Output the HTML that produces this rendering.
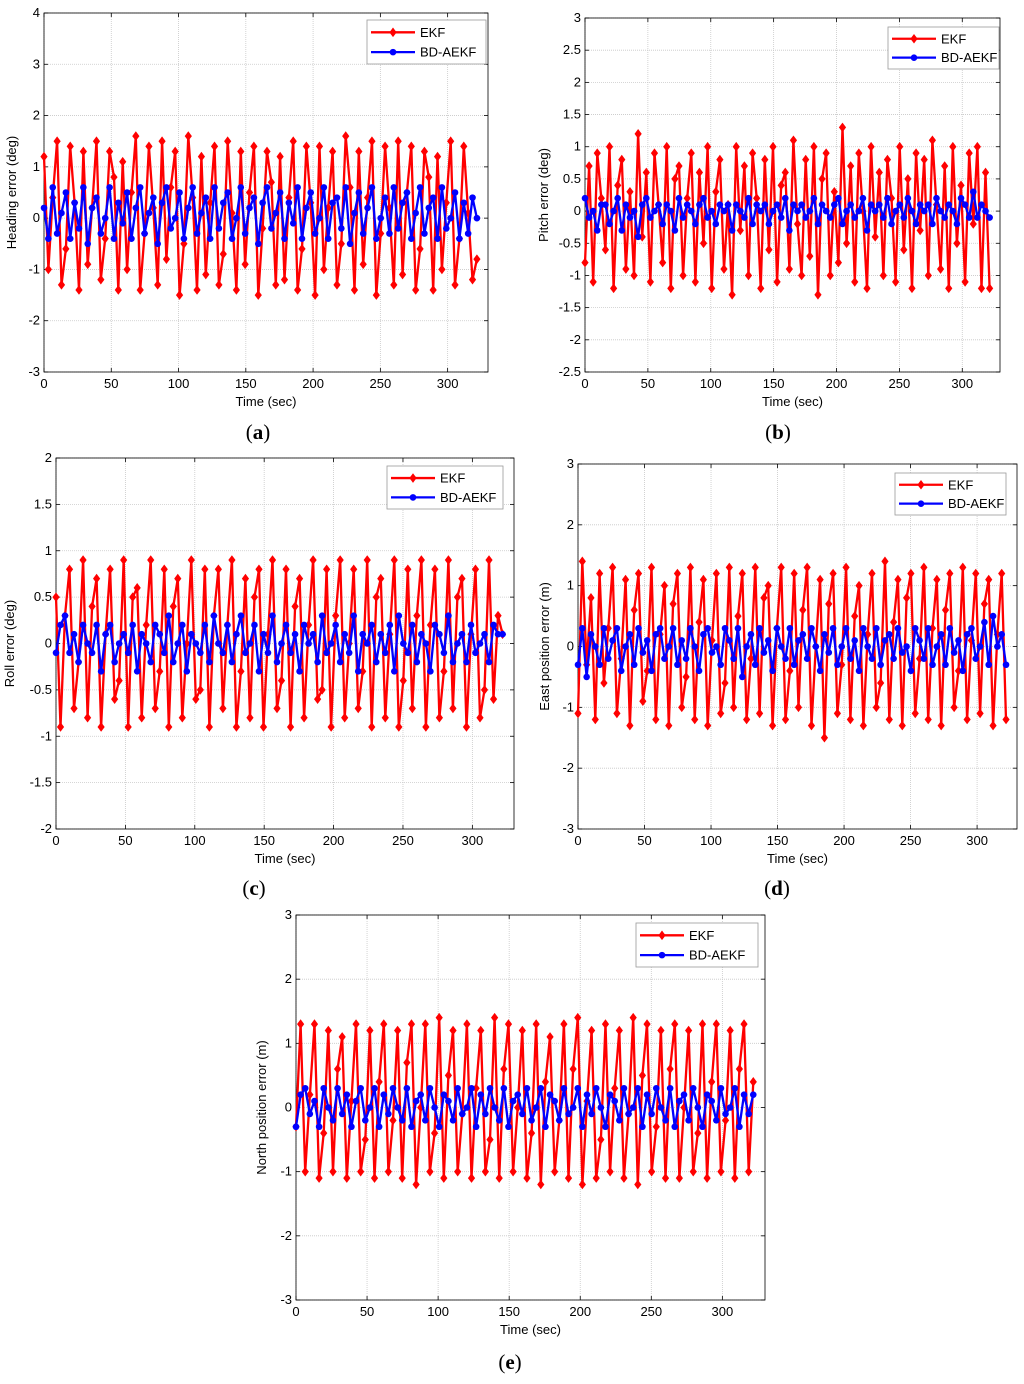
<!DOCTYPE html>
<html><head><meta charset="utf-8"><style>
body{margin:0;background:#fff;}
svg{display:block;font-family:"Liberation Sans",Arial,sans-serif;}
</style></head><body>
<svg id="fig" width="1024" height="1384" viewBox="0 0 1024 1384"></svg>
<script>
const dt = 3.25;
const xTicks = [0,50,100,150,200,250,300];
const headEKF = [1.2,-1.0,0.4,1.5,-1.3,-0.6,1.4,0.3,-1.4,1.3,-0.9,0.2,1.5,-1.2,-0.4,1.3,0.8,-1.4,1.1,-1.0,0.5,1.6,-1.4,-0.3,1.4,0.2,-1.3,1.5,-0.8,0.6,1.3,-1.5,-0.5,1.6,0.4,-1.4,1.2,-1.1,0.3,1.4,-1.3,-0.7,1.5,0.1,-1.4,1.3,-0.9,0.5,1.4,-1.5,-0.2,1.3,0.7,-1.3,1.2,-1.2,0.4,1.5,-1.4,-0.6,1.4,0.3,-1.5,1.4,-1.0,0.2,1.3,-1.3,-0.5,1.6,0.6,-1.4,1.3,-0.9,0.4,1.5,-1.5,-0.3,1.4,0.2,-1.3,1.5,-1.1,0.5,1.4,-1.4,-0.6,1.3,0.8,-1.4,1.2,-1.0,0.3,1.5,-1.3,-0.4,1.4,0.1,-1.2,-0.8];
const headBD = [0.2,-0.4,0.6,-0.3,0.1,0.5,-0.4,0.3,-0.2,0.6,-0.5,0.2,0.4,-0.3,0.0,0.6,-0.4,0.3,-0.1,0.5,-0.4,0.2,0.6,-0.3,0.1,0.4,-0.5,0.3,0.6,-0.2,0.0,0.5,-0.4,0.2,0.6,-0.3,0.1,0.4,-0.4,0.6,-0.2,0.3,0.5,-0.4,0.0,0.6,-0.3,0.2,0.4,-0.5,0.3,0.6,-0.2,0.1,0.5,-0.4,0.3,-0.1,0.6,-0.4,0.2,0.5,-0.3,0.0,0.6,-0.4,0.3,0.4,-0.2,0.6,-0.5,0.1,0.5,-0.3,0.2,0.6,-0.4,0.0,0.4,-0.3,0.6,-0.2,0.3,0.5,-0.4,0.1,0.6,-0.3,0.2,0.4,-0.4,0.6,-0.2,0.0,0.5,-0.4,0.3,-0.3,0.4,0.0];
const pitchEKF = [-0.8,0.7,-1.1,0.9,0.2,-0.6,1.0,-1.2,0.4,0.8,-0.9,0.3,-1.0,1.2,-0.4,0.6,-1.1,0.9,0.1,-0.8,1.0,-1.2,0.5,0.7,-1.0,0.2,0.9,-1.1,0.6,-0.5,1.0,-1.2,0.3,0.8,-0.9,0.1,-1.3,1.0,-0.3,0.7,-1.0,0.9,0.2,-1.2,0.8,-0.6,1.0,-1.1,0.4,0.6,-0.9,1.1,-0.2,-1.0,0.8,-0.7,1.0,-1.3,0.5,0.9,-1.0,0.3,-0.8,1.3,-0.5,0.7,-1.1,0.9,0.0,-1.2,1.0,-0.4,0.6,-1.0,0.8,0.2,-1.1,1.0,-0.6,0.5,-1.2,0.9,-0.3,0.8,-1.0,1.1,0.1,-0.9,0.7,-1.2,1.0,-0.5,0.4,-1.1,0.9,-0.2,1.0,-1.2,0.6,-1.2];
const pitchBD = [0.2,-0.1,0.0,-0.3,0.1,0.1,-0.2,0.0,0.2,-0.3,0.1,-0.1,0.0,-0.4,0.1,0.2,-0.1,0.0,0.1,-0.2,0.1,0.0,-0.3,0.2,-0.1,0.1,0.0,-0.2,0.1,0.2,-0.1,0.0,-0.2,0.1,0.0,0.1,-0.3,0.1,0.0,-0.1,0.2,-0.2,0.1,0.0,0.1,-0.2,0.0,0.1,-0.1,0.2,-0.3,0.1,0.0,0.1,-0.1,0.0,0.2,-0.2,0.1,0.0,-0.1,0.1,0.2,-0.2,0.0,0.1,-0.1,0.0,0.2,-0.3,0.1,0.0,0.1,-0.1,0.2,-0.2,0.0,0.1,-0.1,0.2,0.0,-0.2,0.1,0.0,0.1,-0.2,0.2,0.0,-0.1,0.1,0.0,-0.2,0.2,0.1,-0.1,0.3,-0.1,0.1,0.0,-0.1];
const rollEKF = [0.5,-0.9,0.3,0.8,-0.7,-0.2,0.9,-0.8,0.4,0.7,-0.9,0.1,0.8,-0.6,-0.4,0.9,-0.9,0.5,0.6,-0.8,0.2,0.9,-0.7,-0.3,0.8,-0.9,0.4,0.7,-0.8,0.0,0.9,-0.6,-0.5,0.8,-0.9,0.3,0.8,-0.7,0.2,0.9,-0.9,-0.3,0.7,-0.8,0.5,0.8,-0.9,0.1,0.9,-0.7,-0.4,0.8,-0.9,0.4,0.7,-0.8,0.2,0.9,-0.6,-0.5,0.8,-0.9,0.3,0.9,-0.8,0.0,0.8,-0.7,-0.3,0.9,-0.9,0.5,0.7,-0.8,0.1,0.9,-0.9,-0.4,0.8,-0.7,0.3,0.9,-0.9,0.2,0.8,-0.8,-0.3,0.9,-0.7,0.5,0.7,-0.9,0.1,0.8,-0.8,-0.5,0.9,-0.6,0.3,0.1];
const rollBD = [-0.1,0.2,0.3,-0.1,0.1,-0.2,0.2,0.0,-0.1,0.2,-0.3,0.1,0.2,-0.2,0.0,0.1,-0.1,0.2,-0.3,0.1,0.0,-0.2,0.2,0.1,-0.1,0.3,-0.2,0.0,0.2,-0.3,0.1,0.0,-0.1,0.2,-0.2,0.3,0.0,-0.1,0.2,-0.2,0.1,0.3,-0.1,0.0,0.2,-0.3,0.1,-0.1,0.3,-0.2,0.0,0.2,-0.1,0.1,-0.3,0.2,0.0,0.1,-0.2,0.3,-0.1,0.0,0.2,-0.2,0.1,-0.1,0.3,-0.3,0.1,0.0,0.2,-0.2,0.1,-0.1,0.2,-0.3,0.3,0.0,-0.1,0.2,-0.2,0.1,0.0,-0.3,0.2,0.1,-0.1,0.3,-0.2,0.0,0.1,-0.2,0.2,-0.1,0.0,0.1,-0.2,0.2,0.1,0.1];
const eastEKF = [-1.1,1.4,-0.3,0.8,-1.2,1.2,-0.6,0.3,1.3,-1.1,-0.2,1.1,-1.3,0.6,1.2,-0.9,-0.4,1.3,-1.2,0.2,1.0,-1.3,0.7,1.2,-1.0,-0.5,1.3,-1.2,0.4,1.1,-1.3,0.1,1.2,-1.1,-0.6,1.3,-1.0,0.5,1.2,-1.2,-0.2,1.3,-1.1,0.8,1.0,-1.3,0.3,1.3,-1.2,-0.4,1.2,-1.0,0.6,1.3,-1.3,0.0,1.1,-1.5,0.7,1.2,-1.1,-0.3,1.3,-1.2,0.5,1.0,-1.3,0.2,1.2,-1.0,-0.6,1.4,-1.2,0.4,1.1,-1.3,0.8,1.2,-1.1,-0.2,1.3,-1.2,0.3,1.1,-1.3,0.6,1.2,-1.0,-0.4,1.3,-1.2,0.1,1.2,-1.1,0.7,1.1,-1.3,0.2,1.2,-1.2];
const eastBD = [-0.3,0.3,-0.5,0.2,0.0,-0.3,0.3,-0.2,0.1,0.3,-0.4,0.0,0.2,-0.3,0.3,-0.1,0.1,-0.4,0.2,0.3,-0.2,0.0,0.3,-0.3,0.1,-0.2,0.3,0.0,-0.4,0.2,0.3,-0.1,0.0,-0.3,0.3,0.1,-0.2,0.3,-0.5,0.0,0.2,-0.3,0.3,-0.1,0.1,-0.4,0.3,0.0,-0.2,0.3,-0.3,0.1,0.2,-0.2,0.3,0.0,-0.4,0.2,-0.1,0.3,-0.3,0.0,0.3,-0.2,0.1,-0.4,0.3,0.0,-0.2,0.3,-0.3,0.1,0.2,-0.2,0.3,-0.1,0.0,-0.4,0.3,0.1,-0.2,0.3,-0.3,0.0,0.2,-0.3,0.3,-0.1,0.1,-0.4,0.2,0.3,-0.2,0.0,0.4,-0.3,0.5,0.0,0.2,-0.3];
const northEKF = [-0.3,1.3,-1.0,0.2,1.3,-1.1,-0.4,1.2,-1.0,0.6,1.1,-1.1,0.1,1.3,-1.0,-0.5,1.2,-1.1,0.4,1.3,-1.0,-0.2,1.2,-1.1,0.7,1.3,-1.2,0.0,1.3,-1.0,-0.4,1.4,-1.1,0.5,1.2,-1.0,-0.1,1.3,-1.1,0.3,1.2,-1.0,-0.5,1.4,-1.1,0.6,1.3,-1.0,0.0,1.2,-1.1,-0.4,1.3,-1.2,0.4,1.1,-1.0,-0.2,1.3,-1.1,0.6,1.4,-1.2,0.1,1.2,-1.1,-0.5,1.3,-1.0,0.3,1.2,-1.1,-0.1,1.4,-1.2,0.5,1.3,-1.0,-0.3,1.2,-1.1,0.6,1.3,-1.1,0.0,1.2,-1.0,-0.4,1.3,-1.1,0.4,1.3,-1.0,-0.2,1.2,-1.1,0.6,1.3,-1.0,0.4];
const northBD = [-0.3,0.2,0.3,-0.1,0.1,-0.3,0.3,0.0,-0.2,0.3,-0.1,0.2,-0.3,0.1,0.3,-0.2,0.0,0.3,-0.3,0.2,-0.1,0.3,0.0,-0.2,0.3,-0.3,0.1,0.2,-0.2,0.3,0.0,-0.3,0.2,0.1,-0.2,0.3,-0.1,0.0,0.3,-0.3,0.2,-0.1,0.3,0.0,-0.2,0.3,-0.3,0.1,0.2,-0.1,0.3,-0.2,0.0,0.3,-0.3,0.2,0.1,-0.2,0.3,-0.1,0.0,0.3,-0.3,0.2,-0.1,0.3,0.0,-0.3,0.2,0.1,-0.2,0.3,-0.1,0.0,0.3,-0.3,0.2,-0.1,0.3,0.0,-0.2,0.3,-0.3,0.1,0.2,-0.2,0.3,0.0,-0.3,0.2,0.1,-0.2,0.3,-0.1,0.0,0.3,-0.3,0.2,-0.1,0.2];
const yTicksA = [-3,-2,-1,0,1,2,3,4];
const yTicksB = [-2.5,-2,-1.5,-1,-0.5,0,0.5,1,1.5,2,2.5,3];
const yTicksC = [-2,-1.5,-1,-0.5,0,0.5,1,1.5,2];
const yTicksD = [-3,-2,-1,0,1,2,3];
const yTicksE = [-3,-2,-1,0,1,2,3];

const NS = "http://www.w3.org/2000/svg";
const svg = document.getElementById('fig');
function mk(tag, attrs, parent, text){
  const e = document.createElementNS(NS, tag);
  for (const k in attrs) e.setAttribute(k, attrs[k]);
  if (text !== undefined) e.textContent = text;
  (parent||svg).appendChild(e);
  return e;
}
const panels = [
 {id:'a',L:44,R:488,T:13,B:372,ymin:-3,ymax:4,yt:yTicksA,ekf:headEKF,bd:headBD,ylab:'Heading error (deg)',ylx:16,leg:[367,20,119,44],lab:[258,432]},
 {id:'b',L:585,R:1000,T:18,B:372,ymin:-2.5,ymax:3,yt:yTicksB,ekf:pitchEKF,bd:pitchBD,ylab:'Pitch error (deg)',ylx:548,leg:[888,27,111,42],lab:[778,432]},
 {id:'c',L:56,R:514,T:458,B:829,ymin:-2,ymax:2,yt:yTicksC,ekf:rollEKF,bd:rollBD,ylab:'Roll error (deg)',ylx:14,leg:[387,466,116,43],lab:[254,888]},
 {id:'d',L:578,R:1017,T:464,B:829,ymin:-3,ymax:3,yt:yTicksD,ekf:eastEKF,bd:eastBD,ylab:'East position error (m)',ylx:549,leg:[895,473,111,42],lab:[777,888]},
 {id:'e',L:296,R:765,T:915,B:1300,ymin:-3,ymax:3,yt:yTicksE,ekf:northEKF,bd:northBD,ylab:'North position error (m)',ylx:266,leg:[636,923,122,44],lab:[510,1362]}
];
const XMAX = 330;
panels.forEach(p=>{
  const g = mk('g',{});
  
  
  const sx = v => p.L + v/XMAX*(p.R-p.L);
  const sy = v => p.B - (v-p.ymin)/(p.ymax-p.ymin)*(p.B-p.T);
  mk('rect',{x:p.L,y:p.T,width:p.R-p.L,height:p.B-p.T,fill:'#fff'},g);
  xTicks.forEach(t=>{
    const x=sx(t);
    mk('line',{x1:x,x2:x,y1:p.T,y2:p.B,stroke:'#c8c8c8','stroke-width':0.8,'stroke-dasharray':'1 1'},g);
    mk('line',{x1:x,x2:x,y1:p.B,y2:p.B-4,stroke:'#000','stroke-width':0.8},g);
    mk('line',{x1:x,x2:x,y1:p.T,y2:p.T+4,stroke:'#000','stroke-width':0.8},g);
    const tl = mk('text',{x:x,y:p.B+16,'font-size':13,'text-anchor':'middle'},g,String(t));
    
    
  });
  p.yt.forEach(t=>{
    const y=sy(t);
    mk('line',{x1:p.L,x2:p.R,y1:y,y2:y,stroke:'#c8c8c8','stroke-width':0.8,'stroke-dasharray':'1 1'},g);
    mk('line',{x1:p.L,x2:p.L+4,y1:y,y2:y,stroke:'#000','stroke-width':0.8},g);
    mk('line',{x1:p.R,x2:p.R-4,y1:y,y2:y,stroke:'#000','stroke-width':0.8},g);
    const tl = mk('text',{x:p.L-4,y:y+4,'font-size':13,'text-anchor':'end'},g,String(t));
    
    
  });
  mk('rect',{x:p.L,y:p.T,width:p.R-p.L,height:p.B-p.T,fill:'none',stroke:'#000','stroke-width':0.8},g);
  [[p.ekf,'#ff0000','ekf'],[p.bd,'#0000ff','bd-aekf']].forEach(([arr,col,nm])=>{
    const pts = arr.map((v,i)=>sx(i*dt).toFixed(1)+','+sy(v).toFixed(1)).join(' ');
    const ln = mk('polyline',{points:pts,fill:'none',stroke:col,'stroke-width':2.3,'stroke-linejoin':'round'},g);
    
    
    arr.forEach((v,i)=>{
      const x=sx(i*dt), y=sy(v);
      let m;
      if(nm==='ekf') m = mk('polygon',{points:`${x},${y-4.8} ${x+3.6},${y} ${x},${y+4.8} ${x-3.6},${y}`,fill:col},g);
      else m = mk('circle',{cx:x,cy:y,r:3.3,fill:col},g);
      
      
    });
  });
  const [lx,ly,lw,lh]=p.leg;
  const lg = mk('g',{},g);
  
  
  mk('rect',{x:lx,y:ly,width:lw,height:lh,fill:'#fff',stroke:'#999','stroke-width':0.8},lg);
  [['EKF','#ff0000',0],['BD-AEKF','#0000ff',1]].forEach(([t,c,k])=>{
    const yy = ly + lh*(k===0?0.28:0.73);
    const e = mk('g',{},lg);
    
    
    mk('line',{x1:lx+4,x2:lx+48,y1:yy,y2:yy,stroke:c,'stroke-width':2.3},e);
    if(k===0) mk('polygon',{points:`${lx+26},${yy-4.8} ${lx+29.6},${yy} ${lx+26},${yy+4.8} ${lx+22.4},${yy}`,fill:c},e);
    else mk('circle',{cx:lx+26,cy:yy,r:3.3,fill:c},e);
    mk('text',{x:lx+53,y:yy+4.5,'font-size':13},e,t);
  });
  const xl = mk('text',{x:(p.L+p.R)/2,y:p.B+34,'font-size':13,'text-anchor':'middle'},g,'Time (sec)');
  
  
  const yc=(p.T+p.B)/2;
  const yl = mk('text',{x:p.ylx,y:yc,'font-size':13,'text-anchor':'middle',transform:`rotate(-90 ${p.ylx} ${yc})`},g,p.ylab);
  
  
  const pl = mk('text',{x:p.lab[0],y:p.lab[1]+7,'font-size':21,'text-anchor':'middle','font-family':'"Liberation Serif",serif'},g);
  
  
  mk('tspan',{},pl,'(');
  mk('tspan',{'font-weight':'bold'},pl,p.id);
  mk('tspan',{},pl,')');
});
</script>
</body></html>
